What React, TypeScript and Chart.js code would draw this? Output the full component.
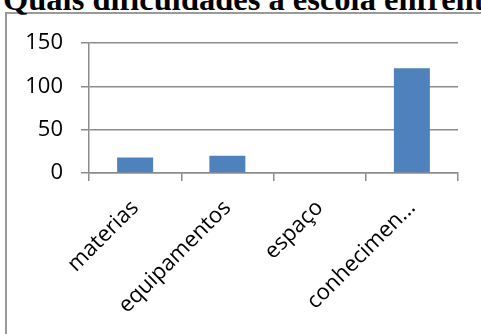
import React, { useEffect, useRef } from "react";
import { Chart, registerables } from "chart.js";

Chart.register(...registerables);

// Chart content
const titleText = "Quais dificuldades a escola enfrenta";
const categories = ["materias", "equipamentos", "espaço", "conhecimen..."];
const counts = [18, 20, 1, 121];
const yTickValues = [0, 50, 100, 150];

const lineGray = "#8c8c8c";
const barBlue = "#4F81BD";
const labelFont = { family: "Open Sans", size: 22 };

export default function App() {
  const canvasRef = useRef<HTMLCanvasElement>(null);

  useEffect(() => {
    const canvas = canvasRef.current;
    if (!canvas) return;
    const chart = new Chart(canvas, {
      type: "bar",
      data: {
        labels: categories,
        datasets: [
          {
            data: counts,
            backgroundColor: barBlue,
            borderWidth: 0,
            barPercentage: 0.39,
            categoryPercentage: 1,
          },
        ],
      },
      options: {
        animation: false,
        responsive: false,
        maintainAspectRatio: false,
        layout: { padding: { left: 0, right: 23, top: 43, bottom: 0 } },
        plugins: {
          legend: { display: false },
          tooltip: { enabled: false },
          title: { display: false },
        },
        scales: {
          x: {
            grid: {
              offset: true,
              drawOnChartArea: false,
              drawTicks: true,
              tickLength: 8,
              color: lineGray,
              lineWidth: 1.5,
            },
            border: { display: true, color: lineGray, width: 1.5 },
            ticks: {
              autoSkip: false,
              maxRotation: 45,
              minRotation: 45,
              padding: 14,
              color: "#000",
              font: labelFont,
            },
            afterFit: (scale: any) => {
              scale.height = 161;
            },
          },
          y: {
            min: 0,
            max: 150,
            afterBuildTicks: (scale: any) => {
              scale.ticks = yTickValues.map((v) => ({ value: v }));
            },
            grid: {
              drawTicks: true,
              tickLength: 8,
              color: lineGray,
              lineWidth: 1.5,
            },
            border: { display: true, color: lineGray, width: 1.5 },
            ticks: {
              padding: 18,
              color: "#000",
              font: labelFont,
            },
            afterFit: (scale: any) => {
              scale.width = 89;
            },
          },
        },
      },
    });
    return () => chart.destroy();
  }, []);

  return (
    <div
      style={{
        position: "fixed",
        left: 0,
        top: 0,
        width: 481,
        height: 334,
        overflow: "hidden",
        background: "#fff",
      }}
    >
      <div
        style={{
          position: "absolute",
          left: 5,
          top: 12,
          width: 600,
          height: 400,
          border: "2px solid #9a9a9a",
          boxSizing: "border-box",
        }}
      />
      <div
        style={{
          position: "absolute",
          left: 3,
          top: -17,
          font: 'bold 32.5px "Liberation Serif"',
          lineHeight: "33px",
          whiteSpace: "nowrap",
          color: "#000",
        }}
      >
        {titleText}
      </div>
      <canvas
        ref={canvasRef}
        width={481}
        height={334}
        style={{ position: "absolute", left: 0, top: 0, width: 481, height: 334 }}
      />
    </div>
  );
}
